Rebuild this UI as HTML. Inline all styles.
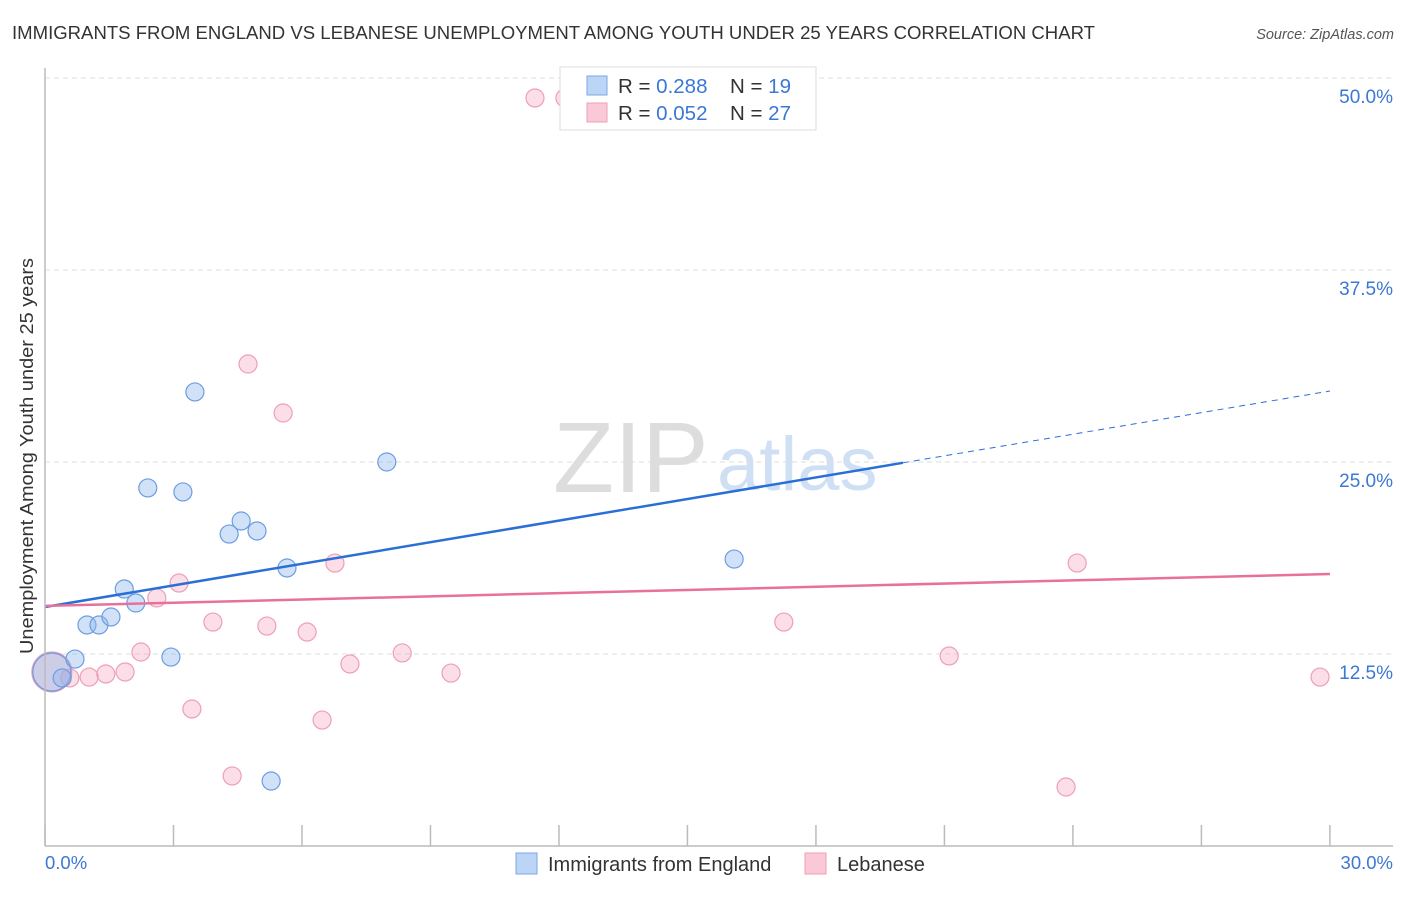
<!DOCTYPE html>
<html><head><meta charset="utf-8"><style>
body{margin:0;background:#fff;font-family:"Liberation Sans",sans-serif;}
svg text{font-family:"Liberation Sans",sans-serif;}
</style></head><body>
<svg id="c" width="1406" height="892">
<text x="12" y="39" font-size="18" fill="#333" textLength="1083" lengthAdjust="spacingAndGlyphs">IMMIGRANTS FROM ENGLAND VS LEBANESE UNEMPLOYMENT AMONG YOUTH UNDER 25 YEARS CORRELATION CHART</text>
<text x="1394" y="39" font-size="14.5" fill="#555" font-style="italic" text-anchor="end">Source: ZipAtlas.com</text>
<text x="33" y="456" font-size="18" fill="#333" text-anchor="middle" textLength="396" lengthAdjust="spacingAndGlyphs" transform="rotate(-90 33 456)">Unemployment Among Youth under 25 years</text>
<text x="553" y="492" font-size="100" fill="#ddd" font-family="Liberation Serif">ZIP</text>
<text x="717" y="490" font-size="76" fill="#cfe0f5">atlas</text>
<g id="grid"></g><g id="marks"></g>
<line x1="45" y1="68" x2="45" y2="846" stroke="#bbb" stroke-width="1.5"/>
<line x1="45" y1="846" x2="1393" y2="846" stroke="#bbb" stroke-width="1.5"/>
<text x="45" y="869" font-size="18.5" fill="#3a78d4">0.0%</text>
<text x="1393" y="869" font-size="18.5" fill="#3a78d4" text-anchor="end">30.0%</text>
<g>
<rect x="560" y="67" width="256" height="63" fill="#fff" stroke="#ddd"/>
<rect x="587" y="76" width="20" height="19" fill="#bcd4f5" stroke="#7aa7e6"/>
<rect x="587" y="103" width="20" height="19" fill="#f9c9d7" stroke="#ee9fb6"/>
<text x="618" y="93" font-size="20.5" fill="#333">R = <tspan fill="#3a78d4">0.288</tspan><tspan x="730">N = </tspan><tspan fill="#3a78d4">19</tspan></text>
<text x="618" y="120" font-size="20.5" fill="#333">R = <tspan fill="#3a78d4">0.052</tspan><tspan x="730">N = </tspan><tspan fill="#3a78d4">27</tspan></text>
</g>
<g>
<rect x="516" y="853" width="21" height="21" fill="#bcd4f5" stroke="#7aa7e6"/>
<text x="548" y="871" font-size="20" fill="#333">Immigrants from England</text>
<rect x="805" y="853" width="21" height="21" fill="#f9c9d7" stroke="#ee9fb6"/>
<text x="837" y="871" font-size="20" fill="#333">Lebanese</text>
</g>
</svg>
<script>
const blueX=[0.16,0.40,0.70,0.98,1.26,1.54,1.85,2.12,2.40,2.94,3.22,3.50,4.30,4.58,4.95,5.28,5.65,7.98,16.09];
const blueY=[11.33,10.94,12.17,14.39,14.39,14.91,16.73,15.82,23.31,12.30,23.05,29.56,20.31,21.16,20.51,4.23,18.10,25.00,18.68];
const pinkX=[0.16,0.58,1.03,1.42,1.87,2.24,2.61,3.13,3.43,3.92,4.37,4.74,5.18,5.56,6.12,6.47,6.77,7.12,8.34,9.48,11.44,12.14,17.25,21.11,23.84,24.10,29.77];
const pinkY=[11.33,10.94,11.00,11.20,11.33,12.63,16.15,17.12,8.92,14.58,4.56,31.38,14.32,28.19,13.93,8.20,18.42,11.85,12.57,11.26,48.70,48.70,14.58,12.37,3.84,18.42,11.00];
const yTicks=[12.5,25,37.5,50];
const yTickLabels=["12.5%","25.0%","37.5%","50.0%"];
const xTicks=[0,3,6,9,12,15,18,21,24,27,30];
const blueTrend=[15.56,29.62];const blueSolidEnd=20.03;
const pinkTrend=[15.63,17.71];
const X=v=>45+v*42.83, Y=v=>846-v*15.36;
const NS="http://www.w3.org/2000/svg";
function mk(t,a,p){const e=document.createElementNS(NS,t);for(const k in a)e.setAttribute(k,a[k]);p.appendChild(e);return e;}
const g=document.getElementById('grid'),m=document.getElementById('marks');
yTicks.forEach((v,i)=>{
 const l=mk('line',{x1:45,x2:1393,y1:Y(v),y2:Y(v),stroke:'#ddd','stroke-dasharray':'5,4'},g);
 
 
 const t=mk('text',{x:1393,y:Y(v)+25,'font-size':19,fill:'#3a78d4','text-anchor':'end'},g);
 t.textContent=yTickLabels[i];
 
 
});
xTicks.forEach(v=>{
 const l=mk('line',{x1:X(v),x2:X(v),y1:825,y2:846,stroke:'#bbb','stroke-width':1.5},g);
 
 
});
function pt(x,y,r,fill,stroke,name){
 const c=mk('circle',{cx:X(x),cy:Y(y),r:r,fill:fill,stroke:stroke,'stroke-width':1.2},m);
 
 
}
pinkX.forEach((x,i)=>pt(x,pinkY[i],i==0?20:9,'rgba(244,160,185,0.35)','#ee9fb6','point-lebanese'));
blueX.forEach((x,i)=>pt(x,blueY[i],i==0?19:9,'rgba(140,180,235,0.4)','#6b9ee0','point-england'));
let l=mk('line',{x1:X(0),y1:Y(blueTrend[0]),x2:X(blueSolidEnd),y2:Y(blueTrend[0]+(blueTrend[1]-blueTrend[0])*blueSolidEnd/30),stroke:'#2a6fd6','stroke-width':2.5},m);


l=mk('line',{x1:X(blueSolidEnd),y1:Y(blueTrend[0]+(blueTrend[1]-blueTrend[0])*blueSolidEnd/30),x2:X(30),y2:Y(blueTrend[1]),stroke:'#2a6fd6','stroke-width':1,'stroke-dasharray':'6,5'},m);


l=mk('line',{x1:X(0),y1:Y(pinkTrend[0]),x2:X(30),y2:Y(pinkTrend[1]),stroke:'#e8709a','stroke-width':2.5},m);


</script>
</body></html>
